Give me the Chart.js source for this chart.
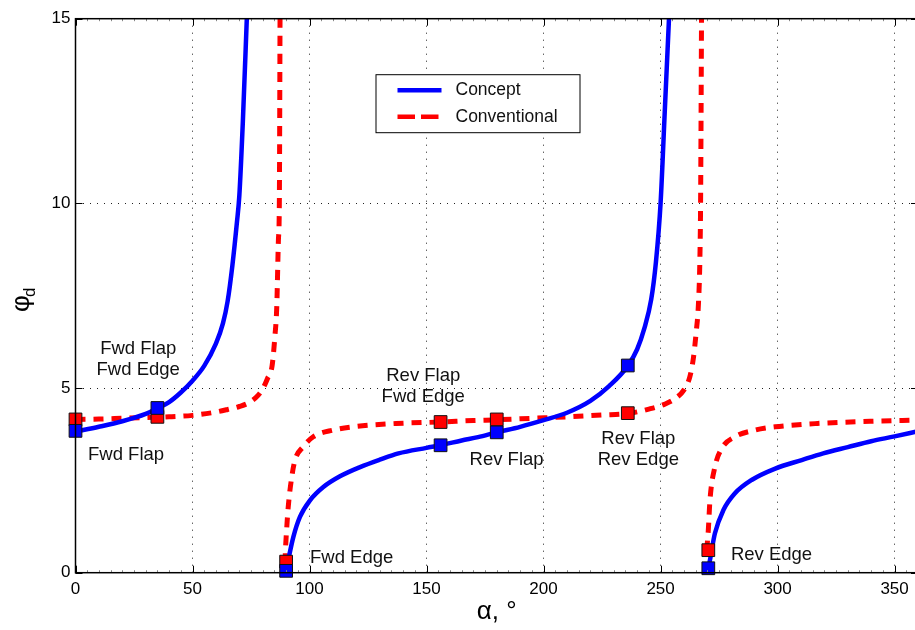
<!DOCTYPE html>
<html>
<head>
<meta charset="utf-8">
<script src="https://cdn.jsdelivr.net/npm/chart.js@4"></script>
<style>
  html, body { margin: 0; padding: 0; background: #fff; overflow: hidden; }
  #wrap { width: 915px; height: 630px; overflow: hidden; }
</style>
</head>
<body>
<div id="wrap"><canvas id="chart" width="928" height="630"></canvas></div>
<script>
const alphaTicks = [0, 50, 100, 150, 200, 250, 300, 350];
const phiTicks = [0, 5, 10, 15];

// Concept (solid blue), three branches  [alpha, phi_d]
const concept1 = [[0,3.82],[10,3.95],[20,4.1],[30,4.3],[35,4.45],[40,4.62],[45,4.88],[50,5.2],[55,5.6],[60,6.2],[63,6.75],[65,7.35],[67,8.3],[69,9.5],[70,10.2],[71.5,12.2],[73.2,15]];
const concept2 = [[90,0.05],[90.9,0.34],[93.1,0.97],[95.9,1.51],[100.2,1.96],[105.9,2.32],[113,2.61],[121.6,2.86],[130,3.06],[138,3.23],[150,3.38],[156,3.45],[165,3.58],[172,3.67],[180,3.8],[190,3.95],[200,4.13],[210,4.33],[220,4.65],[228,5.05],[236,5.6],[240,6.05],[243,6.6],[246,7.4],[248,8.4],[250,10],[251.8,12.5],[253.6,15]];
const concept3 = [[270.3,0.1],[271.1,0.34],[273.2,1.06],[276.8,1.69],[281.8,2.15],[288.9,2.51],[299,2.82],[310.3,3.05],[319.5,3.23],[330,3.4],[340,3.56],[350,3.69],[360,3.83]];

// Conventional (dashed red)
const conventional1 = [[0,4.15],[10,4.16],[20,4.18],[30,4.2],[40,4.22],[50,4.26],[60,4.35],[65,4.42],[70,4.5],[74,4.6],[78,4.8],[80.2,5.0],[82,5.25],[84,5.6],[85.2,6.4],[86,7.2],[86.7,9],[87.1,10],[87.4,15]];
const conventional2 = [[89.5,0.25],[89.7,0.6],[90.2,1.15],[90.9,1.78],[92.4,2.59],[93.8,3.05],[97.3,3.41],[101.6,3.68],[110,3.86],[120,3.96],[137,4.04],[156,4.08],[170,4.12],[180,4.14],[195,4.18],[210,4.22],[225,4.27],[236,4.31],[245,4.43],[252,4.57],[257,4.75],[260,4.95],[262.5,5.3],[264,5.8],[265.2,6.5],[266.2,7.3],[266.8,8.5],[267.1,10],[267.5,15]];
const conventional3 = [[269.7,0.6],[270.4,1.15],[271.1,1.96],[273.2,2.86],[276.1,3.36],[281.8,3.68],[290.3,3.86],[299,3.95],[317,4.04],[340,4.1],[360,4.13]];

// Flap/edge conditions marked with squares
const conceptMarks = [[0,3.84],[35,4.46],[90,0.05],[156,3.45],[180,3.8],[236,5.61],[270.4,0.12]];
const conventionalMarks = [[0,4.15],[35,4.22],[90,0.3],[156,4.08],[180,4.15],[236,4.32],[270.4,0.61]];

const seriesNames = ['Concept', 'Conventional'];
const notes = [
  { text: ['Fwd Flap', 'Fwd Edge'], x: 26.8, y: 5.77 },
  { text: ['Fwd Flap'], x: 21.6, y: 3.2 },
  { text: ['Fwd Edge'], x: 118, y: 0.4 },
  { text: ['Rev Flap', 'Fwd Edge'], x: 148.6, y: 5.04 },
  { text: ['Rev Flap'], x: 184.2, y: 3.05 },
  { text: ['Rev Flap', 'Rev Edge'], x: 240.5, y: 3.34 },
  { text: ['Rev Edge'], x: 297.4, y: 0.48 }
];

const BLUE = '#0000ff';
const RED = '#ff0000';
const FONT = '"Liberation Sans", Arial, Helvetica, sans-serif';
const toPts = arr => arr.map(p => ({ x: p[0], y: p[1] }));

const lineSet = (pts, color, dashed) => ({
  data: toPts(pts),
  borderColor: color,
  borderWidth: dashed ? 5 : 4.5,
  borderDash: dashed ? [10, 8] : [],
  pointRadius: 0,
  showLine: true,
  fill: false,
  cubicInterpolationMode: 'monotone',
  order: dashed ? 4 : 3
});

const markSet = (pts, color, order) => ({
  data: toPts(pts),
  showLine: false,
  pointStyle: 'rect',
  pointRadius: 9,
  pointHoverRadius: 9,
  backgroundColor: color,
  borderColor: '#111',
  pointBorderWidth: 1,
  clip: false,
  order: order
});

const frame = {
  id: 'frame',
  afterDraw(chart) {
    const { ctx, chartArea: a, scales } = chart;
    const xs = scales.x, ys = scales.y;
    ctx.save();

    // minor ticks top / bottom
    ctx.strokeStyle = '#888';
    ctx.lineWidth = 1;
    for (let v = 5; v < 360; v += 5) {
      const px = Math.round(xs.getPixelForValue(v)) + 0.5;
      ctx.beginPath();
      ctx.moveTo(px, a.top); ctx.lineTo(px, a.top + 2.5);
      ctx.moveTo(px, a.bottom); ctx.lineTo(px, a.bottom - 2.5);
      ctx.stroke();
    }

    // major ticks, pointing inward
    ctx.strokeStyle = '#000';
    alphaTicks.forEach(v => {
      const px = Math.round(xs.getPixelForValue(v)) + 0.5;
      ctx.beginPath();
      ctx.moveTo(px, a.bottom); ctx.lineTo(px, a.bottom - 7);
      ctx.moveTo(px, a.top); ctx.lineTo(px, a.top + 7);
      ctx.stroke();
    });
    phiTicks.forEach(v => {
      const py = Math.round(ys.getPixelForValue(v)) + 0.5;
      ctx.beginPath();
      ctx.moveTo(a.left, py); ctx.lineTo(a.left + 7, py);
      ctx.moveTo(a.right, py); ctx.lineTo(a.right - 7, py);
      ctx.stroke();
    });

    // axes box
    ctx.lineWidth = 1.5;
    ctx.strokeRect(a.left, a.top, a.right - a.left, a.bottom - a.top);

    // annotations
    ctx.fillStyle = '#111';
    ctx.font = '18.5px ' + FONT;
    ctx.textAlign = 'center';
    ctx.textBaseline = 'middle';
    notes.forEach(n => {
      const cx = xs.getPixelForValue(n.x);
      const cy = ys.getPixelForValue(n.y);
      const h = 20.5;
      n.text.forEach((t, i) => {
        ctx.fillText(t, cx, cy + (i - (n.text.length - 1) / 2) * h);
      });
    });

    // legend
    const lx = a.left + 300, ly = a.top + 55.5, lw = 204, lh = 58;
    ctx.fillStyle = '#fff';
    ctx.fillRect(lx, ly, lw, lh);
    ctx.lineWidth = 1;
    ctx.strokeStyle = '#000';
    ctx.strokeRect(lx + 0.5, ly + 0.5, lw, lh);
    const rows = [
      { name: seriesNames[0], color: BLUE, dash: [], y: ly + 16 },
      { name: seriesNames[1], color: RED, dash: [17.5, 6], y: ly + 42.5 }
    ];
    rows.forEach(r => {
      ctx.beginPath();
      ctx.setLineDash(r.dash);
      ctx.strokeStyle = r.color;
      ctx.lineWidth = 4.5;
      ctx.moveTo(lx + 22, r.y);
      ctx.lineTo(lx + 66, r.y);
      ctx.stroke();
      ctx.setLineDash([]);
      ctx.fillStyle = '#111';
      ctx.font = '17.5px ' + FONT;
      ctx.textAlign = 'left';
      ctx.textBaseline = 'middle';
      ctx.fillText(r.name, lx + 80, r.y);
    });

    // axis titles
    ctx.fillStyle = '#000';
    ctx.textAlign = 'center';
    ctx.textBaseline = 'middle';
    ctx.font = '26px ' + FONT;
    ctx.fillText('\u03B1, \u00B0', (a.left + a.right) / 2, 612);

    ctx.translate(22, 304);
    ctx.rotate(-Math.PI / 2);
    ctx.font = '26px ' + FONT;
    ctx.textAlign = 'left';
    ctx.textBaseline = 'middle';
    ctx.fillText('\u03C6', -8, 0);
    ctx.font = '17px ' + FONT;
    ctx.fillText('d', 7, 8);
    ctx.restore();
  }
};

const gridColor = (hideValues) => (c) =>
  (c.tick && hideValues.includes(c.tick.value)) ? 'rgba(0,0,0,0)' : '#222';

new Chart(document.getElementById('chart').getContext('2d'), {
  type: 'scatter',
  data: {
    datasets: [
      markSet(conceptMarks, BLUE, 0),
      markSet(conventionalMarks, RED, 1),
      lineSet(concept1, BLUE, false),
      lineSet(concept2, BLUE, false),
      lineSet(concept3, BLUE, false),
      lineSet(conventional1, RED, true),
      lineSet(conventional2, RED, true),
      lineSet(conventional3, RED, true)
    ]
  },
  options: {
    responsive: false,
    animation: false,
    events: [],
    layout: { padding: { top: 18.7, right: 2, left: 0, bottom: 0 } },
    plugins: { legend: { display: false }, tooltip: { enabled: false } },
    scales: {
      x: {
        type: 'linear',
        min: 0,
        max: 360,
        afterBuildTicks: s => { s.ticks = alphaTicks.map(v => ({ value: v })); },
        afterFit: s => { s.height = 57.3; },
        ticks: { color: '#000', padding: 6, font: { family: FONT, size: 17 } },
        grid: { color: gridColor([0, 360]), lineWidth: 1, drawTicks: false },
        border: { display: false, dash: [1, 6] }
      },
      y: {
        type: 'linear',
        min: 0,
        max: 15,
        afterBuildTicks: s => { s.ticks = phiTicks.map(v => ({ value: v })); },
        afterFit: s => { s.width = 75.5; },
        ticks: { color: '#000', padding: 5, font: { family: FONT, size: 17 } },
        grid: { color: gridColor([0, 15]), lineWidth: 1, drawTicks: false },
        border: { display: false, dash: [1, 6] }
      }
    }
  },
  plugins: [frame]
});
</script>
</body>
</html>
